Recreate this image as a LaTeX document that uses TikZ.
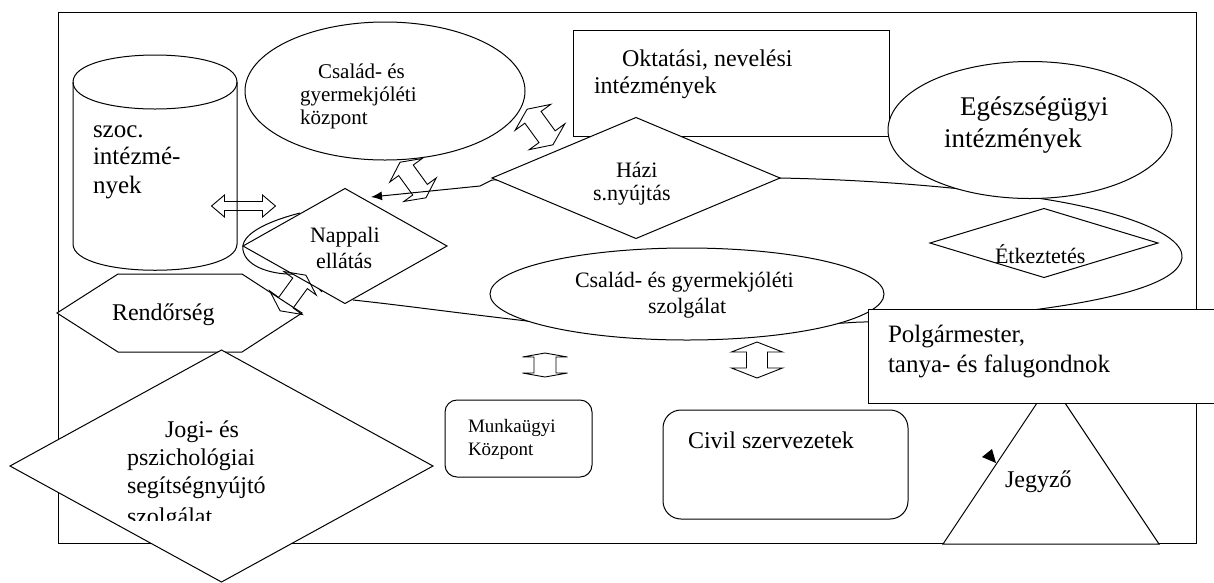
\documentclass[tikz,border=0pt]{standalone}
\usepackage{fontspec}
\setmainfont{Liberation Serif}
\usetikzlibrary{shapes.geometric,arrows.meta}
\newcommand\fsz[1]{\fontsize{#1}{#1}\selectfont}
% name, x, y, angle, length, shaft width, head width, head length
\newcommand\dblarr[8]{%
 \begin{scope}[shift={(#2,#3)},rotate=#4]
 \coordinate (#1) at (0,0);
 \draw[blk] ({-#5/2},0) -- ({-#5/2+#8},{#7/2}) -- ({-#5/2+#8},{#6/2}) -- ({#5/2-#8},{#6/2}) -- ({#5/2-#8},{#7/2}) -- ({#5/2},0) -- ({#5/2-#8},{-#7/2}) -- ({#5/2-#8},{-#6/2}) -- ({-#5/2+#8},{-#6/2}) -- ({-#5/2+#8},{-#7/2}) -- cycle;
 \end{scope}}
\begin{document}
\begin{tikzpicture}[x=1pt,y=-1pt,line width=1pt,
 shp/.style={draw,fill=white,inner sep=0pt,outer sep=0pt},
 txt/.style={inner sep=0pt,outer sep=0pt,anchor=base west},
 blk/.style={draw,line width=0.9pt,line join=miter}]
\useasboundingbox (0,0) rectangle (1214,582);
% frame
\node[draw,inner sep=0pt,outer sep=0pt,minimum width=1138pt,minimum height=531pt,anchor=north west] (frame) at (58,12) {};
% big loop
\draw[{Latex[length=11pt,width=9pt]}-] (371,197) -- (480,186) -- (492,180) -- (780,178)
  .. controls (880,180) and (960,188) .. (1030,197)
  .. controls (1110,208) and (1185,232) .. (1182,258)
  .. controls (1179,282) and (1120,298) .. (1040,309)
  .. controls (980,317) and (920,322) .. (860,322) -- (700,332) -- (527,321)
  .. controls (450,312) and (400,305) .. (353,300);
\draw (300,213) .. controls (265,222) and (240,235) .. (243,250)
  .. controls (246,268) and (275,275) .. (295,274)
  .. controls (305,276) and (315,284) .. (322,292);
% cylinder
\coordinate (cyl) at (155,160);
\draw[fill=white] (73,82) -- (73,244) .. controls (73,279) and (237,279) .. (237,244) -- (237,82)
  .. controls (237,46) and (73,46) .. (73,82) -- cycle;
\draw (73,82) .. controls (73,118) and (237,118) .. (237,82);
% shapes
\node[shp,ellipse,minimum width=280pt,minimum height=138pt] (kozp) at (385,91) {};
\node[shp,minimum width=316pt,minimum height=106pt,anchor=north west] (okt) at (573,30) {};
\node[shp,diamond,minimum width=288pt,minimum height=121pt] (hazi) at (636,178) {};
\node[shp,ellipse,minimum width=284pt,minimum height=137pt] (eg) at (1030,130) {};
\node[shp,diamond,minimum width=228pt,minimum height=69pt] (etk) at (1044,243) {};
\node[shp,diamond,minimum width=204pt,minimum height=115pt] (napp) at (345,246) {};
\node[shp,ellipse,minimum width=394pt,minimum height=92pt] (szolg) at (687,294) {};
\coordinate (jegy) at (1051,490);
\draw[shp] (1051,382) -- (1159,544) -- (943,544) -- cycle;
\node[shp,minimum width=348pt,minimum height=94pt,anchor=north west] (polg) at (868,309) {};
\coordinate (rend) at (180,313);
\draw[shp] (57,313) -- (118,274) -- (242,274) -- (302,313) -- (242,352) -- (118,352) -- cycle;
\node[shp,diamond,minimum width=423pt,minimum height=232pt] (jogi) at (221.5,466) {};
\node[shp,rounded corners=12pt,minimum width=147pt,minimum height=77pt,anchor=north west] (munka) at (445,400) {};
\node[shp,rounded corners=18pt,minimum width=245pt,minimum height=109pt,anchor=north west] (civil) at (663,410) {};
% jegyzo arrowhead
\fill (982,457) -- (992,449) -- (996,463) -- cycle;
% block arrows
\dblarr{arrA}{243.5}{206}{0}{64}{9}{22}{13}
\dblarr{arrB}{413}{180}{-54}{44}{18}{40}{10}
\dblarr{arrC}{540}{127}{-54}{44}{20}{44}{10}
\dblarr{arrD}{293}{293}{54}{44}{18}{40}{10}
\dblarr{arrE}{545}{365}{90}{24}{22}{45}{4}
\dblarr{arrF}{757}{360}{90}{36}{21}{51}{10}
% texts
\node[txt,font=\fsz{25}] (t1) at (93,137) {szoc.};
\node[txt,font=\fsz{25}] (t2) at (93,164) {intézmé-};
\node[txt,font=\fsz{25}] (t3) at (93,193) {nyek};
\node[txt,font=\fsz{21}] (t4) at (318,78) {Család- és};
\node[txt,font=\fsz{21}] (t5) at (300,101) {gyermekjóléti};
\node[txt,font=\fsz{21}] (t6) at (300,124) {központ};
\node[txt,font=\fsz{24}] (t7) at (622,66) {Oktatási, nevelési};
\node[txt,font=\fsz{24}] (t8) at (594,93) {intézmények};
\node[txt,font=\fsz{27}] (t9) at (960,115) {Egészségügyi};
\node[txt,font=\fsz{27}] (t10) at (944,147) {intézmények};
\node[txt,font=\fsz{22}] (t11) at (616,177) {Házi};
\node[txt,font=\fsz{22}] (t12) at (593,200) {s.nyújtás};
\node[txt,font=\fsz{22}] (t13) at (310,242) {Nappali};
\node[txt,font=\fsz{22}] (t14) at (316,268) {ellátás};
\node[txt,font=\fsz{22}] (t15) at (995,263) {Étkeztetés};
\node[txt,font=\fsz{22}] (t16) at (575,287) {Család- és gyermekjóléti};
\node[txt,font=\fsz{22}] (t17) at (648,313) {szolgálat};
\node[txt,font=\fsz{24}] (t18) at (112,320) {Rendőrség};
\node[txt,font=\fsz{24}] (t19) at (165,437) {Jogi- és};
\node[txt,font=\fsz{24}] (t20) at (127,465) {pszichológiai};
\node[txt,font=\fsz{24}] (t21) at (127,493) {segítségnyújtó};
\begin{scope}
\clip (100,490) rectangle (320,520);
\node[txt,font=\fsz{24}] (t22) at (127,524) {szolgálat};
\end{scope}
\node[txt,font=\fsz{19}] (t23) at (468,432) {Munkaügyi};
\node[txt,font=\fsz{19}] (t24) at (468,455) {Központ};
\node[txt,font=\fsz{24}] (t25) at (688,448) {Civil szervezetek};
\node[txt,font=\fsz{25}] (t26) at (888,342) {Polgármester,};
\node[txt,font=\fsz{25}] (t27) at (888,372) {tanya- és falugondnok};
\node[txt,font=\fsz{24}] (t28) at (1005,487) {Jegyző};
\end{tikzpicture}
\end{document}
